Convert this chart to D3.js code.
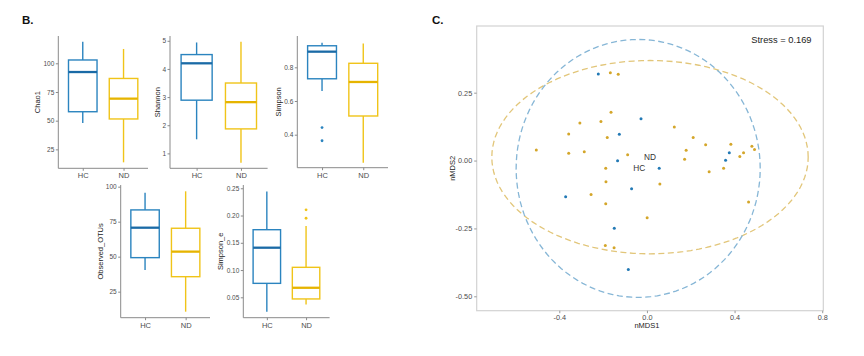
<!DOCTYPE html>
<html>
<head>
<meta charset="utf-8">
<script src="https://cdn.jsdelivr.net/npm/d3@7"></script>
<style>
  html, body { margin: 0; padding: 0; background: #fff; }
  svg { display: block; font-family: "Liberation Sans", Arial, sans-serif; }
</style>
</head>
<body>
<svg id="chart" width="864" height="356"></svg>
<script>
// ---------------- DATA ----------------
const groups = ["HC", "ND"];
const metrics = ["Chao1", "Shannon", "Simpson", "Observed_OTUs", "Simpson_e"];

// box stats: [lower whisker, Q1, median, Q3, upper whisker]
const chao1HC = [48, 57.8, 92.4, 102.9, 118.8];
const chao1ND = [13.7, 51.5, 69.2, 86.8, 112.5];
const shannonHC = [1.50, 2.89, 4.20, 4.51, 4.94];
const shannonND = [0.67, 1.87, 2.82, 3.50, 4.97];
const simpsonHC = [0.659, 0.732, 0.893, 0.928, 0.946];
const simpsonND = [0.234, 0.511, 0.713, 0.824, 0.942];
const otusHC = [40.5, 49.3, 70.7, 83.4, 95.7];
const otusND = [10.7, 35.7, 53.6, 70.3, 96.7];
const simpsonEHC = [0.0236, 0.0756, 0.141, 0.174, 0.244];
const simpsonEND = [0.037, 0.047, 0.0675, 0.105, 0.181];

// outliers
const simpsonHCOut = [0.442, 0.364];
const simpsonNDOut = [];
const simpsonEHCOut = [];
const simpsonENDOut = [0.2105, 0.195];

// tick labels
const chao1Ticks = [25, 50, 75, 100];
const shannonTicks = [1, 2, 3, 4, 5];
const simpsonTicks = [0.4, 0.6, 0.8];
const otusTicks = [25, 50, 75, 100];
const simpsonETicks = [0.05, 0.10, 0.15, 0.20, 0.25];

// axis limits
const chao1Domain = [8.5, 123.8];
const shannonDomain = [0.47, 5.17];
const simpsonDomain = [0.204, 0.986];
const otusDomain = [6.4, 101.2];
const simpsonEDomain = [0.0126, 0.256];

// NMDS points
const hcX = [-0.222, -0.027, -0.126, -0.134, 0.056, -0.070, -0.371, -0.149, -0.085, 0.376, 0.359];
const hcY = [0.319, 0.154, 0.097, -0.001, -0.028, -0.104, -0.133, -0.249, -0.401, 0.029, 0.001];
const ndX = [-0.167, -0.131, -0.164, -0.306, -0.210, -0.357, -0.181, -0.357, -0.286, -0.088, -0.188,
             -0.505, -0.187, -0.255, -0.188, 0.001, -0.190, -0.150, 0.059, 0.125, 0.211, 0.268,
             0.179, 0.172, 0.383, 0.441, 0.424, 0.479, 0.491, 0.350, 0.284, 0.464];
const ndY = [0.323, 0.318, 0.178, 0.138, 0.144, 0.098, 0.085, 0.027, 0.032, 0.021, -0.028,
             0.039, -0.078, -0.125, -0.159, -0.211, -0.313, -0.321, -0.086, 0.124, 0.085, 0.058,
             0.038, 0.005, 0.060, 0.029, 0.015, 0.053, 0.041, -0.028, -0.041, -0.153];

// ellipses: [centerX, centerY, radiusX, radiusY]
const hcEllipse = [-0.040, -0.029, 0.557, 0.475];
const ndEllipse = [0.014, 0.0125, 0.722, 0.356];
const hcCentroid = [-0.035, -0.029];
const ndCentroid = [0.014, 0.0125];

const nmdsXTicks = [-0.4, 0.0, 0.4, 0.8];
const nmdsYTicks = [-0.50, -0.25, 0.00, 0.25];
const nmdsXDomain = [-0.777, 0.805];
const nmdsYDomain = [-0.553, 0.4956];
const stressLabel = "Stress = 0.169";

// ---------------- STYLE / LAYOUT ----------------
const colHC = "#2b84bf", colND = "#f0c419";
const medHC = "#1a6aa6", medND = "#e6b400";
const ptHC = "#2279b5", ptND = "#d4a62a";
const ellHC = "#86b6d6", ellND = "#e2c67a";
const axisCol = "#8a8a8a", tickTextCol = "#4d4d4d";

const svg = d3.select("#chart");

svg.append("text").attr("x", 22).attr("y", 24).attr("font-size", 11.5)
  .attr("font-weight", "bold").attr("fill", "#111").text("B.");
svg.append("text").attr("x", 432).attr("y", 24).attr("font-size", 11.5)
  .attr("font-weight", "bold").attr("fill", "#111").text("C.");

const panels = [
  { name: metrics[0], hc: chao1HC, nd: chao1ND, hcOut: [], ndOut: [], ticks: chao1Ticks, dom: chao1Domain, fmt: d3.format("d"),
    L: 58.3, R: 148, T: 36, B: 168.3, labX: 37.5 },
  { name: metrics[1], hc: shannonHC, nd: shannonND, hcOut: [], ndOut: [], ticks: shannonTicks, dom: shannonDomain, fmt: d3.format("d"),
    L: 170, R: 267.6, T: 36, B: 168.3, labX: 157 },
  { name: metrics[2], hc: simpsonHC, nd: simpsonND, hcOut: simpsonHCOut, ndOut: simpsonNDOut, ticks: simpsonTicks, dom: simpsonDomain, fmt: d3.format(".1f"),
    L: 297.3, R: 388, T: 36, B: 167.7, labX: 278 },
  { name: metrics[3], hc: otusHC, nd: otusND, hcOut: [], ndOut: [], ticks: otusTicks, dom: otusDomain, fmt: d3.format("d"),
    L: 120.7, R: 210, T: 185, B: 317.7, labX: 100 },
  { name: metrics[4], hc: simpsonEHC, nd: simpsonEND, hcOut: simpsonEHCOut, ndOut: simpsonENDOut, ticks: simpsonETicks, dom: simpsonEDomain, fmt: d3.format(".2f"),
    L: 243.3, R: 329.6, T: 185, B: 317.7, labX: 220 }
];

panels.forEach(p => {
  const g = svg.append("g");
  const y = d3.scaleLinear().domain(p.dom).range([p.B, p.T]);
  const x = d3.scalePoint().domain(groups).range([p.L, p.R]).padding(0.6);
  const bw = x.step() * 0.7;

  const yAxis = g.append("g").attr("transform", `translate(${p.L},0)`)
    .call(d3.axisLeft(y).tickValues(p.ticks).tickFormat(p.fmt).tickSize(2.5).tickPadding(1.5));
  const xAxis = g.append("g").attr("transform", `translate(0,${p.B})`)
    .call(d3.axisBottom(x).tickSize(2.5).tickPadding(2));
  [yAxis, xAxis].forEach(a => {
    a.select(".domain").attr("stroke", axisCol).attr("stroke-width", 1);
    a.selectAll(".tick line").attr("stroke", axisCol);
  });
  yAxis.selectAll(".tick text").attr("font-size", 6.5).attr("fill", tickTextCol);
  xAxis.selectAll(".tick text").attr("font-size", 7.5).attr("fill", tickTextCol);
  yAxis.select(".domain").attr("d", `M0,${p.T}V${p.B}`);
  xAxis.select(".domain").attr("d", `M${p.L},0H${p.R}`);

  g.append("text")
    .attr("transform", `translate(${p.labX},${(p.T + p.B) / 2}) rotate(-90)`)
    .attr("text-anchor", "middle").attr("dominant-baseline", "central")
    .attr("font-size", 7.5).attr("fill", "#222").text(p.name);

  const boxes = [
    { grp: "HC", s: p.hc, out: p.hcOut, c: colHC, m: medHC },
    { grp: "ND", s: p.nd, out: p.ndOut, c: colND, m: medND }
  ];
  boxes.forEach(b => {
    const cx = x(b.grp);
    g.append("line").attr("x1", cx).attr("x2", cx)
      .attr("y1", y(b.s[4])).attr("y2", y(b.s[3])).attr("stroke", b.c).attr("stroke-width", 1.4);
    g.append("line").attr("x1", cx).attr("x2", cx)
      .attr("y1", y(b.s[1])).attr("y2", y(b.s[0])).attr("stroke", b.c).attr("stroke-width", 1.4);
    g.append("rect").attr("x", cx - bw / 2).attr("width", bw)
      .attr("y", y(b.s[3])).attr("height", y(b.s[1]) - y(b.s[3]))
      .attr("fill", "#fff").attr("stroke", b.c).attr("stroke-width", 1.4);
    g.append("line").attr("x1", cx - bw / 2).attr("x2", cx + bw / 2)
      .attr("y1", y(b.s[2])).attr("y2", y(b.s[2])).attr("stroke", b.m).attr("stroke-width", 2.3);
    g.selectAll(null).data(b.out).enter().append("circle")
      .attr("cx", cx).attr("cy", d => y(d)).attr("r", 1.4).attr("fill", b.c);
  });
});

// ---------------- NMDS ----------------
const nx = d3.scaleLinear().domain(nmdsXDomain).range([476.7, 823.3]);
const ny = d3.scaleLinear().domain(nmdsYDomain).range([310.7, 26]);
const gc = svg.append("g");

gc.append("rect").attr("x", nx.range()[0]).attr("y", ny.range()[1])
  .attr("width", nx.range()[1] - nx.range()[0]).attr("height", ny.range()[0] - ny.range()[1])
  .attr("fill", "none").attr("stroke", "#d2d2d2").attr("stroke-width", 1.2);

const nxAxis = gc.append("g").attr("transform", `translate(0,${ny.range()[0]})`)
  .call(d3.axisBottom(nx).tickValues(nmdsXTicks).tickFormat(d3.format(".1f")).tickSize(2.5).tickPadding(2));
const nyAxis = gc.append("g").attr("transform", `translate(${nx.range()[0]},0)`)
  .call(d3.axisLeft(ny).tickValues(nmdsYTicks).tickFormat(d3.format(".2f")).tickSize(2.5).tickPadding(2));
[nxAxis, nyAxis].forEach(a => {
  a.select(".domain").remove();
  a.selectAll(".tick line").attr("stroke", "#999");
  a.selectAll(".tick text").attr("font-size", 7.3).attr("fill", tickTextCol);
});
nxAxis.selectAll(".tick text").text(d => d3.format(".1f")(d).replace("−", "-"));
nyAxis.selectAll(".tick text").text(d => d3.format(".2f")(d).replace("−", "-"));

gc.append("text").attr("x", nx(0)).attr("y", 328).attr("text-anchor", "middle")
  .attr("font-size", 7.5).attr("fill", "#222").text("nMDS1");
gc.append("text").attr("transform", `translate(452,${(ny.range()[0] + ny.range()[1]) / 2}) rotate(-90)`)
  .attr("text-anchor", "middle").attr("dominant-baseline", "central")
  .attr("font-size", 7.5).attr("fill", "#222").text("nMDS2");

function ellipsePath(e) {
  const n = 120, pts = [];
  for (let i = 0; i <= n; i++) {
    const t = (i / n) * 2 * Math.PI;
    pts.push([nx(e[0] + e[2] * Math.cos(t)), ny(e[1] + e[3] * Math.sin(t))]);
  }
  return d3.line()(pts);
}
gc.append("path").attr("d", ellipsePath(ndEllipse)).attr("fill", "none")
  .attr("stroke", ellND).attr("stroke-width", 1.3).attr("stroke-dasharray", "6,3.5");
gc.append("path").attr("d", ellipsePath(hcEllipse)).attr("fill", "none")
  .attr("stroke", ellHC).attr("stroke-width", 1.3).attr("stroke-dasharray", "6,3.5");

gc.selectAll(".pnd").data(d3.range(ndX.length)).enter().append("circle")
  .attr("cx", i => nx(ndX[i])).attr("cy", i => ny(ndY[i])).attr("r", 1.5).attr("fill", ptND);
gc.selectAll(".phc").data(d3.range(hcX.length)).enter().append("circle")
  .attr("cx", i => nx(hcX[i])).attr("cy", i => ny(hcY[i])).attr("r", 1.5).attr("fill", ptHC);

gc.append("text").attr("x", nx(ndCentroid[0])).attr("y", ny(ndCentroid[1]))
  .attr("text-anchor", "middle").attr("dominant-baseline", "central")
  .attr("font-size", 8.3).attr("fill", "#333").text("ND");
gc.append("text").attr("x", nx(hcCentroid[0])).attr("y", ny(hcCentroid[1]))
  .attr("text-anchor", "middle").attr("dominant-baseline", "central")
  .attr("font-size", 8.3).attr("fill", "#333").text("HC");

gc.append("text").attr("x", 811.5).attr("y", 42.5).attr("text-anchor", "end")
  .attr("font-size", 9.3).attr("fill", "#222").text(stressLabel);
</script>
</body>
</html>
